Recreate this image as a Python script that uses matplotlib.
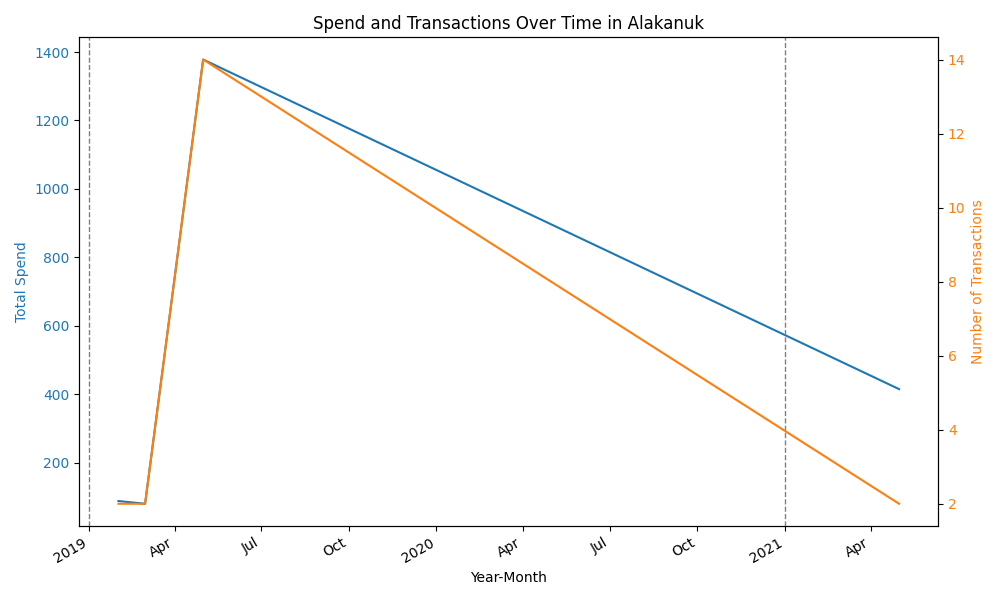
import matplotlib
matplotlib.use('Agg')
import matplotlib.pyplot as plt
import matplotlib.dates as mdates
import pandas as pd

months = pd.to_datetime(['2019-02-01', '2019-03-01', '2019-05-01', '2021-05-01'])
spend = [88, 80, 1378, 415]
transactions = [2, 2, 14, 2]
event_dates = pd.to_datetime(['2019-01-01', '2021-01-01'])

fig, ax1 = plt.subplots(figsize=(10, 6))
ax1.plot(months, spend, color='tab:blue')
ax1.set_xlabel('Year-Month')
ax1.set_ylabel('Total Spend', color='tab:blue')
ax1.tick_params(axis='y', labelcolor='tab:blue')

ax2 = ax1.twinx()
ax2.plot(months, transactions, color='tab:orange')
ax2.set_ylabel('Number of Transactions', color='tab:orange')
ax2.tick_params(axis='y', labelcolor='tab:orange')

xl = ax1.get_xlim()
for d in event_dates:
    ax1.axvline(d, color='gray', linestyle='--', linewidth=1)
ax1.set_xlim(xl)

loc = mdates.AutoDateLocator()
ax1.xaxis.set_major_locator(loc)
ax1.xaxis.set_major_formatter(mdates.ConciseDateFormatter(loc))
fig.autofmt_xdate()

plt.title('Spend and Transactions Over Time in Alakanuk')
fig.tight_layout()
fig.savefig('out.png', dpi=100)
